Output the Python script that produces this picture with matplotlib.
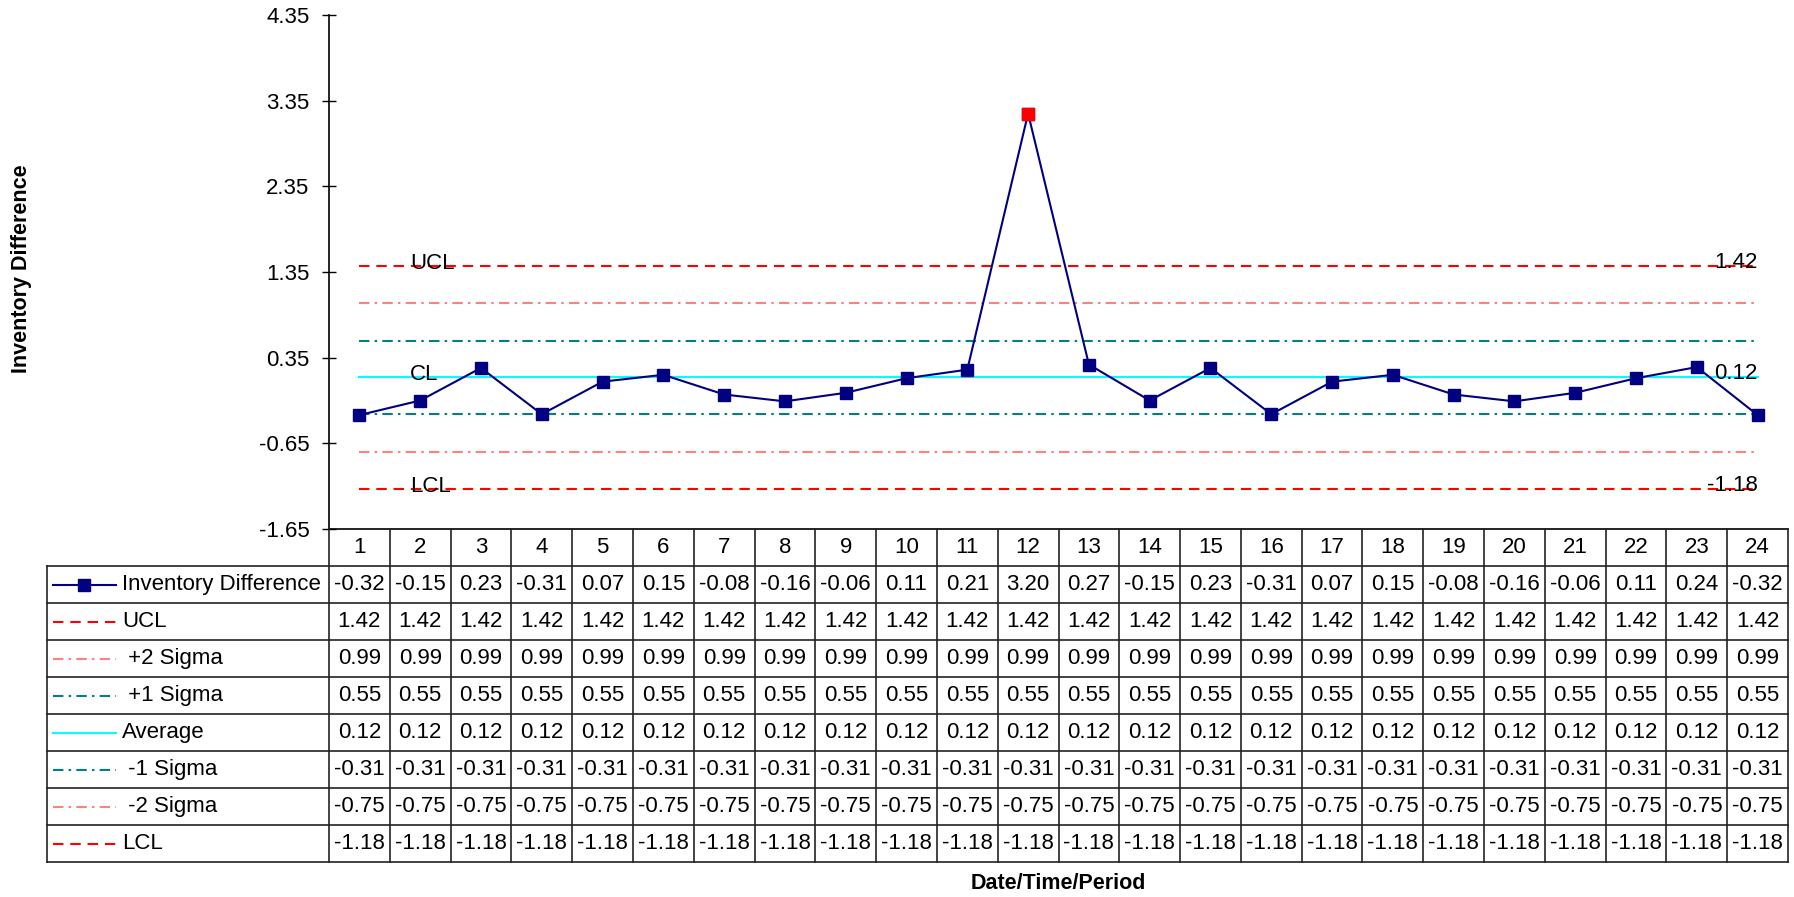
import numpy as np
import matplotlib.pyplot as plt

plt.rcParams['font.family'] = ['Liberation Sans', 'DejaVu Sans']

W, H = 1794, 897
FS = 16

periods = list(range(1, 25))
inv_diff = [-0.32, -0.15, 0.23, -0.31, 0.07, 0.15, -0.08, -0.16, -0.06, 0.11, 0.21, 3.20,
            0.27, -0.15, 0.23, -0.31, 0.07, 0.15, -0.08, -0.16, -0.06, 0.11, 0.24, -0.32]
ucl = [1.42] * 24
plus2 = [0.99] * 24
plus1 = [0.55] * 24
average = [0.12] * 24
minus1 = [-0.31] * 24
minus2 = [-0.75] * 24
lcl = [-1.18] * 24
yticks = [-1.65, -0.65, 0.35, 1.35, 2.35, 3.35, 4.35]

# series name, values, colour, linestyle
dash = (0, (5, 3.3))
dashdot = (0, (5, 2.5, 1.2, 2.5))
rows = [
    ("Inventory Difference", inv_diff, "#000080", "-"),
    ("UCL", ucl, "#FF0000", dash),
    (" +2 Sigma", plus2, "#FF8080", dashdot),
    (" +1 Sigma", plus1, "#008080", dashdot),
    ("Average", average, "#00FFFF", "-"),
    (" -1 Sigma", minus1, "#008080", dashdot),
    (" -2 Sigma", minus2, "#FF8080", dashdot),
    ("LCL", lcl, "#FF0000", dash),
]

fig = plt.figure(figsize=(W / 100, H / 100), dpi=100)

# plot area
px_l, px_r, px_t, px_b = 329, 1788, 15, 529
ax = fig.add_axes([px_l / W, 1 - px_b / H, (px_r - px_l) / W, (px_b - px_t) / H])

for name, vals, col, ls in rows[1:]:
    ax.plot(periods, vals, color=col, linestyle=ls, lw=1.5, zorder=2)

ax.plot(periods, inv_diff, color="#000080", lw=1.5, marker="s", ms=8,
        mfc="#000080", mec="#000080", zorder=3)
# points beyond the control limits get a red marker
out = [(p, v) for p, v in zip(periods, inv_diff) if v > ucl[0] or v < lcl[0]]
if out:
    ax.plot([p for p, v in out], [v for p, v in out], ls="none", marker="s", ms=8,
            mfc="#FF0000", mec="#FF0000", zorder=4)

# limit labels
for txt, y in [("UCL", ucl[0]), ("CL", average[0]), ("LCL", lcl[0])]:
    ax.annotate(txt, (1.83, y), xytext=(0, -2), textcoords="offset points",
                ha="left", va="baseline", fontsize=FS)
for y in [ucl[0], average[0], lcl[0]]:
    ax.annotate(f"{y:.2f}", (24, y), xytext=(0, -1.5), textcoords="offset points",
                ha="right", va="baseline", fontsize=FS)

ax.set_xlim(0.5, 24.5)
ax.set_ylim(yticks[0], yticks[-1])
ax.set_yticks(yticks)
ax.set_yticklabels([f"{t:.2f}" for t in yticks], fontsize=FS)
ax.set_xticks([])
ax.tick_params(axis="y", direction="inout", length=10, width=1, pad=9)
ax.spines["top"].set_visible(False)
ax.spines["right"].set_visible(False)
ax.spines["left"].set_linewidth(1.2)
ax.spines["bottom"].set_linewidth(1.2)
fig.text(22 / W, 1 - 269 / H, "Inventory Difference", rotation=90, ha="center",
         va="center", fontsize=15.5, fontweight="bold")

# data table below the plot
tab_l, tab_b = 47, 862
col_w = (px_r - px_l) / 24
x0 = 0.5 - (px_l - tab_l) / col_w
tab = fig.add_axes([tab_l / W, 1 - tab_b / H, (px_r - tab_l) / W, (tab_b - px_b) / H])
tab.set_xlim(x0, 24.5)
tab.set_ylim(9, 0)
tab.axis("off")

lc = "#222222"
for r in range(1, 10):
    tab.plot([x0, 24.5], [r, r], color=lc, lw=1.2, clip_on=False)
for k in range(25):
    tab.plot([0.5 + k, 0.5 + k], [0, 9], color=lc, lw=1.2, clip_on=False)
tab.plot([x0, x0], [1, 9], color=lc, lw=1.2, clip_on=False)

for p in periods:
    tab.text(p, 0.5, str(p), ha="center", va="center", fontsize=FS)

def px2x(px):
    return x0 + (px - tab_l) / col_w

for r, (name, vals, col, ls) in enumerate(rows, start=1):
    yc = r + 0.5
    if name == "Inventory Difference":
        tab.plot([px2x(53), px2x(116)], [yc, yc], color=col, lw=1.5)
        tab.plot([px2x(84)], [yc], marker="s", ms=8, color=col)
    else:
        tab.plot([px2x(53), px2x(116)], [yc, yc], color=col, lw=1.5, linestyle=ls)
    tab.text(px2x(122), yc, name, ha="left", va="center", fontsize=FS)
    for p, v in zip(periods, vals):
        tab.text(p, yc, f"{v:.2f}", ha="center", va="center", fontsize=FS)

fig.text((px_l + px_r) / 2 / W, 1 - 883 / H, "Date/Time/Period", ha="center",
         va="center", fontsize=15.5, fontweight="bold")

fig.savefig("out.png", dpi=100)
